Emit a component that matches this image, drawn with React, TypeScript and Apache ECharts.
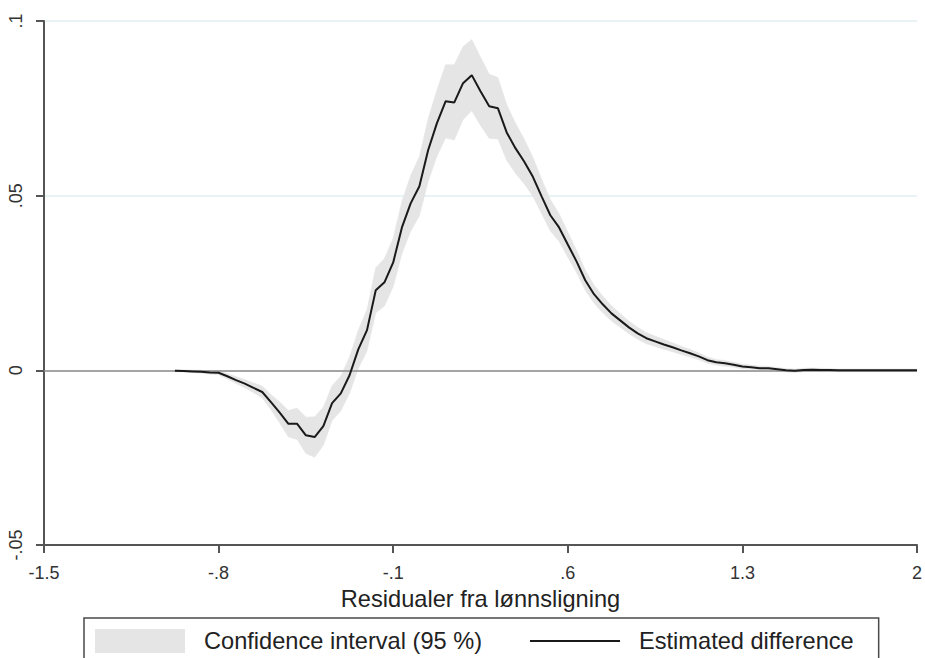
import React, { useEffect, useRef } from "react";
import * as echarts from "echarts";

const xs = [
  -0.975, -0.94, -0.905, -0.87, -0.835, -0.8, -0.765, -0.73, -0.695, -0.66,
  -0.625, -0.59, -0.555, -0.52, -0.485, -0.45, -0.415, -0.38, -0.345, -0.31,
  -0.275, -0.24, -0.205, -0.17, -0.135, -0.1, -0.065, -0.03, 0.005, 0.04,
  0.075, 0.11, 0.145, 0.18, 0.215, 0.25, 0.285, 0.32, 0.355, 0.39,
  0.425, 0.46, 0.495, 0.53, 0.565, 0.6, 0.635, 0.67, 0.705, 0.74,
  0.775, 0.81, 0.845, 0.88, 0.915, 0.95, 0.985, 1.02, 1.055, 1.09,
  1.125, 1.16, 1.195, 1.23, 1.265, 1.3, 1.335, 1.37, 1.405, 1.44,
  1.475, 1.51, 1.545, 1.58, 1.615, 1.65, 1.685, 1.72, 1.755, 1.79,
  1.825, 1.86, 1.895, 1.93, 1.965, 2.0,
];

const estimate = [
  -0.0001, -0.0002, -0.0003, -0.0004, -0.0006, -0.0007, -0.0017, -0.0028, -0.0038, -0.005,
  -0.0062, -0.0091, -0.0121, -0.0153, -0.0153, -0.0186, -0.0191, -0.016, -0.0094, -0.0066,
  -0.0014, 0.006, 0.0115, 0.0229, 0.0252, 0.0309, 0.0409, 0.0478, 0.0527, 0.063,
  0.0707, 0.077, 0.0767, 0.0822, 0.0845, 0.0799, 0.0756, 0.075, 0.0681, 0.0636,
  0.0598, 0.0554, 0.0498, 0.0444, 0.0409, 0.036, 0.0312, 0.0258, 0.0218, 0.0189,
  0.0163, 0.0143, 0.0123, 0.0106, 0.0092, 0.0083, 0.0074, 0.0066, 0.0057, 0.0049,
  0.004, 0.0029, 0.0023, 0.002, 0.0016, 0.0011, 0.0009, 0.0006, 0.0006, 0.0003,
  0, -0.0001, 0.0001, 0.0002, 0.0001, 0.0001, 0, 0, 0, 0,
  0, 0, 0, 0, 0, 0,
];

const ciLow = [
  -0.0004, -0.0005, -0.0007, -0.0008, -0.0011, -0.0013, -0.0025, -0.0038, -0.005, -0.0064,
  -0.0079, -0.0113, -0.0151, -0.0191, -0.0198, -0.0238, -0.0249, -0.0215, -0.0144, -0.0116,
  -0.0066, 0.0005, 0.0055, 0.0164, 0.0184, 0.0239, 0.0334, 0.0398, 0.0442, 0.054,
  0.0612, 0.0665, 0.0659, 0.0717, 0.0743, 0.0701, 0.0664, 0.0662, 0.0601, 0.0564,
  0.0534, 0.0498, 0.0448, 0.0399, 0.0369, 0.0324, 0.028, 0.0229, 0.0192, 0.0165,
  0.0141, 0.0123, 0.0105, 0.0089, 0.0076, 0.0068, 0.006, 0.0053, 0.0045, 0.0038,
  0.003, 0.002, 0.0015, 0.0012, 0.0009, 0.0004, 0.0003, 0, 0.0001, -0.0002,
  -0.0005, -0.0006, -0.0004, -0.0003, -0.0004, -0.0003, -0.0004, -0.0004, -0.0004, -0.0004,
  -0.0004, -0.0004, -0.0004, -0.0004, -0.0004, -0.0004,
];

const ciHigh = [
  0.0002, 0.0001, 0.0001, 0, -0.0001, -0.0001, -0.0009, -0.0018, -0.0026, -0.0036,
  -0.0045, -0.0069, -0.0091, -0.0115, -0.0108, -0.0134, -0.0133, -0.0105, -0.0044, -0.0016,
  0.0038, 0.0115, 0.0175, 0.0294, 0.032, 0.0379, 0.0484, 0.0558, 0.0612, 0.072,
  0.0802, 0.0875, 0.0875, 0.0927, 0.0947, 0.0897, 0.0848, 0.0838, 0.0761, 0.0708,
  0.0662, 0.061, 0.0548, 0.0489, 0.0449, 0.0396, 0.0344, 0.0287, 0.0244, 0.0213,
  0.0185, 0.0163, 0.0141, 0.0123, 0.0108, 0.0098, 0.0088, 0.0079, 0.0069, 0.006,
  0.005, 0.0038, 0.0031, 0.0028, 0.0023, 0.0018, 0.0015, 0.0012, 0.0011, 0.0008,
  0.0005, 0.0004, 0.0006, 0.0007, 0.0006, 0.0005, 0.0004, 0.0004, 0.0004, 0.0004,
  0.0004, 0.0004, 0.0004, 0.0004, 0.0004, 0.0004,
];

const xTicks = [-1.5, -0.8, -0.1, 0.6, 1.3, 2];
const yTicks = [-0.05, 0, 0.05, 0.1];

const CI_NAME = "Confidence interval (95 %)";
const EST_NAME = "Estimated difference";
const FONT = "Liberation Sans, Arial, sans-serif";

function fmt(v: number): string {
  if (Math.abs(v) < 1e-9) return "0";
  const r = Math.round(v * 1000) / 1000;
  let s = String(r);
  s = s.replace(/^(-?)0\./, "$1.");
  return s;
}

export default function App() {
  const ref = useRef<HTMLDivElement>(null);

  useEffect(() => {
    if (!ref.current) return;
    const chart = echarts.init(ref.current, undefined, { renderer: "svg" });

    const estData = xs.map((x, i) => [x, estimate[i]]);
    const ciData = xs.map((x, i) => [x, ciLow[i], ciHigh[i]]);

    const option: any = {
      animation: false,
      backgroundColor: "#ffffff",
      textStyle: { fontFamily: FONT },
      grid: { left: 44, right: 5, top: 21, bottom: 113, containLabel: false },
      legend: {
        left: 84,
        top: 618,
        orient: "horizontal",
        padding: [11, 25, 20, 11],
        borderColor: "#4a4a4a",
        borderWidth: 1.5,
        borderRadius: 0,
        itemGap: 48,
        itemWidth: 90,
        itemHeight: 24,
        symbolKeepAspect: true,
        selectedMode: false,
        textStyle: {
          fontSize: 23.6,
          color: "#222",
          fontFamily: FONT,
          padding: [0, 0, 0, 14],
        },
        data: [
          { name: CI_NAME, icon: "rect", itemStyle: { color: "#e5e5e5" } },
          {
            name: EST_NAME,
            icon: "path://M0,0 L90,0 L90,2 L0,2 Z",
            itemStyle: { color: "#1a1a1a", borderWidth: 0 },
          },
        ],
      },
      xAxis: {
        type: "value",
        min: -1.5,
        max: 2,
        interval: 0.7,
        name: "Residualer fra lønnsligning",
        nameLocation: "middle",
        nameGap: 37,
        nameTextStyle: { fontSize: 23.6, color: "#222", fontFamily: FONT },
        axisLine: { show: true, onZero: false, lineStyle: { color: "#555", width: 2 } },
        axisTick: { show: true, length: 8, lineStyle: { color: "#555", width: 2 } },
        axisLabel: {
          fontSize: 18,
          color: "#333",
          margin: 19,
          fontFamily: FONT,
          showMinLabel: true,
          showMaxLabel: true,
          formatter: (v: number) => {
            const t = xTicks.find((k) => Math.abs(k - v) < 1e-6);
            return t === undefined ? "" : fmt(t);
          },
        },
        splitLine: { show: false },
      },
      yAxis: {
        type: "value",
        min: -0.05,
        max: 0.1,
        interval: 0.05,
        axisLine: { show: true, onZero: false, lineStyle: { color: "#555", width: 2 } },
        axisTick: { show: true, length: 8, lineStyle: { color: "#555", width: 2 } },
        axisLabel: {
          fontSize: 18,
          color: "#333",
          rotate: 90,
          margin: 19,
          fontFamily: FONT,
          showMinLabel: true,
          showMaxLabel: true,
          formatter: (v: number) => {
            const t = yTicks.find((k) => Math.abs(k - v) < 1e-9);
            return t === undefined ? "" : fmt(t);
          },
        },
        splitLine: { show: true, lineStyle: { color: "#e2eef0", width: 1.5 } },
      },
      series: [
        {
          name: CI_NAME,
          type: "custom",
          z: 2,
          itemStyle: { color: "#e5e5e5" },
          encode: { x: 0, y: [1, 2] },
          data: ciData,
          renderItem: (params: any, api: any) => {
            if (params.dataIndex !== 0) return null;
            const upper = xs.map((x, i) => api.coord([x, ciHigh[i]]));
            const lower = xs.map((x, i) => api.coord([x, ciLow[i]])).reverse();
            return {
              type: "polygon",
              shape: { points: upper.concat(lower) },
              style: { fill: "#e5e5e5", stroke: "#e5e5e5", lineWidth: 0.5 },
            };
          },
        },
        {
          name: EST_NAME,
          type: "line",
          z: 4,
          data: estData,
          symbol: "none",
          showSymbol: false,
          lineStyle: { color: "#1a1a1a", width: 2 },
          itemStyle: { color: "#1a1a1a" },
          markLine: {
            silent: true,
            symbol: "none",
            z: 3,
            label: { show: false },
            lineStyle: { color: "#8c8c8c", width: 1.5, type: "solid" },
            data: [{ yAxis: 0 }],
          },
        },
      ],
    };

    chart.setOption(option);
    return () => chart.dispose();
  }, []);

  return (
    <div
      ref={ref}
      style={{ position: "fixed", left: 0, top: 0, width: 925, height: 658 }}
    />
  );
}
